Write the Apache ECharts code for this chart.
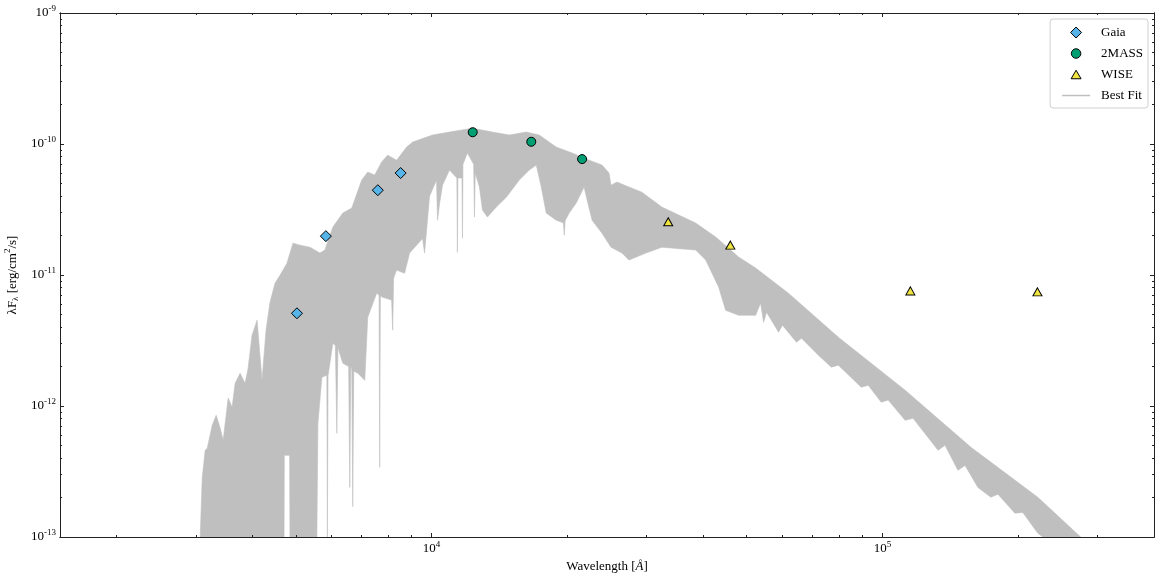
<!DOCTYPE html>
<html>
<head>
<meta charset="utf-8">
<script src="https://cdn.jsdelivr.net/npm/echarts@6/dist/echarts.min.js"></script>
<style>
  html, body { margin: 0; background: #fff; }
  #sed { width: 1156px; height: 573px; }
</style>
</head>
<body>
<div id="sed"></div>
<script>
// photometry, wavelength in Angstrom, flux in erg/cm2/s
const gaiaWave = [5030, 5830, 7600, 8540];
const gaiaFlux = [5.1e-12, 1.98e-11, 4.44e-11, 6.0e-11];
const tmassWave = [12340, 16640, 21570];
const tmassFlux = [1.23e-10, 1.04e-10, 7.67e-11];
const wiseWave = [33480, 45980, 115300, 220600];
const wiseFlux = [2.55e-11, 1.69e-11, 7.56e-12, 7.43e-12];

// best fit model spectrum: upper and lower edge of the band
const fitTopWave = [3069, 3101, 3148, 3181, 3263, 3330, 3399, 3451, 3540, 3612, 3668, 3763, 3859, 3919,
  3999, 4103, 4208, 4295, 4383, 4497, 4613, 4779, 4928, 5108, 5374, 5655, 5800, 6041, 6357, 6654, 7000,
  7220, 7482, 7750, 7991, 8367, 8806, 9079, 10051, 10960, 12320, 13640, 14880, 16220, 17330, 18900,
  20500, 22360, 23880, 24750, 25000, 25780, 27400, 29270, 32410, 38530, 42670, 47970, 52320, 61870,
  79820, 112260, 157100, 221000, 275000];
const fitTopFlux = [1e-13, 2.85e-13, 4.59e-13, 4.75e-13, 7.13e-13, 8.5e-13, 6.76e-13, 5.47e-13, 1.15e-12,
  9.77e-13, 1.49e-12, 1.78e-12, 1.49e-12, 1.94e-12, 3.47e-12, 4.52e-12, 1.57e-12, 3.79e-12, 6.19e-12,
  8.66e-12, 9.97e-12, 1.23e-11, 1.75e-11, 1.69e-11, 1.63e-11, 1.47e-11, 1.55e-11, 2.32e-11, 2.97e-11,
  3.24e-11, 5.3e-11, 6.1e-11, 5.79e-11, 7.28e-11, 8.22e-11, 7.53e-11, 9.47e-11, 1.034e-10, 1.17e-10,
  1.233e-10, 1.32e-10, 1.233e-10, 1.17e-10, 1.233e-10, 1.17e-10, 9.47e-11, 8.53e-11, 7.53e-11, 6.9e-11,
  6.0e-11, 4.85e-11, 5.12e-11, 4.69e-11, 4.29e-11, 3.3e-11, 2.49e-11, 1.95e-11, 1.37e-11, 1.13e-11,
  7.26e-12, 3.35e-12, 1.32e-12, 4.84e-13, 2.01e-13, 1e-13];
const fitLowWave = [3069, 4709, 4715, 4845, 4853, 5568, 5598, 5713, 5859, 5875, 5895, 6041, 6120, 6166,
  6200, 6357, 6550, 6587, 6620, 6655, 6688, 6722, 6862, 7111, 7220, 7555, 7650, 7674, 7700, 7790, 8156,
  8200, 8240, 8367, 8714, 8940, 9552, 9650, 9750, 9899, 10257, 10310, 10416, 10576, 10960, 11380, 11410,
  11440, 11680, 11710, 11740, 12010, 12400, 12450, 12500, 12770, 12970, 13300, 13920, 14650, 15650,
  16470, 17070, 17510, 17960, 18900, 19600, 19690, 19780, 20190, 20930, 21790, 22130, 22700, 23880,
  25000, 26440, 27400, 29880, 32410, 38530, 40550, 43330, 44890, 47970, 52320, 53660, 54490, 55330,
  58820, 60000, 64460, 66130, 72100, 77010, 79820, 89740, 93000, 99350, 102950, 112260, 116900, 132800,
  137600, 147000, 152400, 162800, 173900, 180300, 196600, 204700, 221000, 226700, 275000];
const fitLowFlux = [1e-13, 1e-13, 4.2e-13, 4.2e-13, 1e-13, 1e-13, 7.38e-13, 1.66e-12, 1.72e-12, 1e-13,
  1.7e-12, 3.01e-12, 2.9e-12, 6.19e-13, 2.8e-12, 2.12e-12, 2.0e-12, 2.39e-13, 2.0e-12, 1.9e-12, 1.7e-13,
  1.85e-12, 1.78e-12, 1.57e-12, 4.76e-12, 7.26e-12, 7.0e-12, 3.4e-13, 6.9e-12, 6.77e-12, 6.43e-12,
  3.79e-12, 9.5e-12, 1.09e-11, 1.03e-11, 1.47e-11, 1.9e-11, 1.47e-11, 2.2e-11, 4.0e-11, 5.3e-11,
  2.62e-11, 3.5e-11, 4.85e-11, 6.32e-11, 5.5e-11, 1.49e-11, 5.5e-11, 5.5e-11, 1.91e-11, 7.0e-11,
  8.53e-11, 7.0e-11, 2.77e-11, 6.0e-11, 4.69e-11, 3.13e-11, 2.77e-11, 3.3e-11, 3.93e-11, 5.3e-11,
  6.32e-11, 6.9e-11, 4.69e-11, 2.97e-11, 2.62e-11, 2.5e-11, 2.01e-11, 2.6e-11, 2.97e-11, 3.54e-11,
  4.69e-11, 3.73e-11, 2.62e-11, 2.08e-11, 1.63e-11, 1.47e-11, 1.3e-11, 1.47e-11, 1.63e-11, 1.55e-11,
  1.3e-11, 8.07e-12, 5.38e-12, 4.93e-12, 4.93e-12, 6.1e-12, 4.36e-12, 5.2e-12, 3.66e-12, 4.14e-12,
  3.07e-12, 3.29e-12, 2.44e-12, 1.98e-12, 2.05e-12, 1.39e-12, 1.44e-12, 1.07e-12, 1.11e-12, 7.78e-13,
  8.05e-13, 4.59e-13, 5.01e-13, 3.23e-13, 3.52e-13, 2.39e-13, 2.01e-13, 2.12e-13, 1.52e-13, 1.54e-13,
  1.07e-13, 1e-13, 1e-13];

// tick positions
const xMajor = [1e4, 1e5];
const xMinor = [2000, 3000, 4000, 5000, 6000, 7000, 8000, 9000, 20000, 30000, 40000, 50000, 60000,
  70000, 80000, 90000, 200000, 300000];
const yMajor = [1e-13, 1e-12, 1e-11, 1e-10, 1e-9];
const yMinor = [2e-13, 3e-13, 4e-13, 5e-13, 6e-13, 7e-13, 8e-13, 9e-13, 2e-12, 3e-12, 4e-12, 5e-12,
  6e-12, 7e-12, 8e-12, 9e-12, 2e-11, 3e-11, 4e-11, 5e-11, 6e-11, 7e-11, 8e-11, 9e-11, 2e-10, 3e-10,
  4e-10, 5e-10, 6e-10, 7e-10, 8e-10, 9e-10];

const FONT = '"Liberation Serif", "DejaVu Serif", serif';
const pairs = (xs, ys) => xs.map((x, i) => [x, ys[i]]);
const pow10 = v => '10{sup|' + Math.round(Math.log10(v)) + '}';
const supRich = { sup: { fontSize: 9, fontFamily: FONT, color: '#000', padding: [0, 0, 9, 0] } };

function makeAxis(kind, position, ticks, len, labels) {
  const isX = kind === 'x';
  return {
    type: 'log',
    logBase: 10,
    position: position,
    min: isX ? 1500 : 1e-13,
    max: isX ? 400000 : 1e-9,
    z: 10,
    splitLine: { show: false },
    axisLine: { show: true, onZero: false, lineStyle: { color: '#222', width: 1 } },
    axisTick: { show: true, inside: true, length: len, customValues: ticks,
      lineStyle: { color: '#222', width: 1 } },
    axisLabel: labels ? {
      show: true, customValues: ticks, formatter: pow10, margin: isX ? 3 : 4,
      fontSize: 13, fontFamily: FONT, color: '#000', rich: supRich
    } : { show: false }
  };
}

const xAxes = [
  makeAxis('x', 'bottom', xMajor, 4, true),
  makeAxis('x', 'bottom', xMinor, 2, false),
  makeAxis('x', 'top', xMajor, 4, false),
  makeAxis('x', 'top', xMinor, 2, false)
];
Object.assign(xAxes[0], {
  name: 'Wavelength [{it|Å}]',
  nameLocation: 'middle',
  nameGap: 17,
  nameTextStyle: { fontSize: 13, fontFamily: FONT, color: '#000',
    rich: { it: { fontStyle: 'italic', fontSize: 13, fontFamily: FONT, color: '#000' } } }
});

const yAxes = [
  makeAxis('y', 'left', yMajor, 4, true),
  makeAxis('y', 'left', yMinor, 2, false),
  makeAxis('y', 'right', yMajor, 4, false),
  makeAxis('y', 'right', yMinor, 2, false)
];
Object.assign(yAxes[0], {
  name: 'λF{sub|λ} [erg/cm{sup|2}/s]',
  nameLocation: 'middle',
  nameGap: 35,
  nameRotate: 90,
  nameTextStyle: { fontSize: 13, fontFamily: FONT, color: '#000',
    rich: {
      sub: { fontSize: 9, fontFamily: FONT, color: '#000', padding: [7, 0, 0, 0] },
      sup: { fontSize: 9, fontFamily: FONT, color: '#000', padding: [0, 0, 8, 0] }
    } }
});

const markerEdge = { borderColor: '#000', borderWidth: 1 };
const legendEdge = { borderColor: '#000', borderWidth: 1 };

const chart = echarts.init(document.getElementById('sed'));
chart.setOption({
  backgroundColor: '#fff',
  animation: false,
  grid: { left: 60, right: 2, top: 13, bottom: 36, containLabel: false, outerBoundsMode: 'none' },
  xAxis: xAxes,
  yAxis: yAxes,
  legend: {
    orient: 'vertical',
    right: 8,
    top: 19,
    padding: [7, 5, 6, 12],
    itemWidth: 28,
    itemHeight: 11,
    itemGap: 8,
    symbolKeepAspect: true,
    borderColor: '#d0d0d0',
    borderWidth: 1,
    borderRadius: 3,
    backgroundColor: 'rgba(255,255,255,0.8)',
    textStyle: { fontSize: 13, fontFamily: FONT, color: '#000', padding: [0, 0, 0, 6] },
    data: [
      { name: 'Gaia', icon: 'path://M5.5,0L11,5.5L5.5,11L0,5.5Z', itemStyle: legendEdge },
      { name: '2MASS', icon: 'path://M-0.8,-0.8M10.8,10.8M5,0A5,5,0,1,1,5,10A5,5,0,1,1,5,0Z', itemStyle: legendEdge },
      { name: 'WISE', icon: 'path://M5,-1.25M5,9.75M5,0L10,8.5L0,8.5Z', itemStyle: legendEdge },
      { name: 'Best Fit', icon: 'path://M0,0L28,0L28,1.5L0,1.5Z' }
    ]
  },
  series: [
    {
      name: 'spectrum',
      type: 'custom',
      clip: true,
      z: 1,
      data: [[fitTopWave[0], fitTopFlux[0]]],
      renderItem: function (params, api) {
        const pts = [];
        for (let i = 0; i < fitTopWave.length; i++) {
          pts.push(api.coord([fitTopWave[i], fitTopFlux[i]]));
        }
        for (let i = fitLowWave.length - 1; i >= 0; i--) {
          pts.push(api.coord([fitLowWave[i], fitLowFlux[i]]));
        }
        return { type: 'polygon', shape: { points: pts }, style: { fill: '#bfbfbf', stroke: '#bfbfbf', lineWidth: 0.6 } };
      }
    },
    {
      name: 'Best Fit',
      type: 'line',
      symbol: 'none',
      data: [],
      lineStyle: { color: '#bfbfbf', width: 1.5 },
      itemStyle: { color: '#bfbfbf' }
    },
    {
      name: 'Gaia',
      type: 'scatter',
      symbol: 'diamond',
      symbolSize: 11,
      z: 3,
      data: pairs(gaiaWave, gaiaFlux),
      itemStyle: Object.assign({ color: '#56b4e9', opacity: 1 }, markerEdge)
    },
    {
      name: '2MASS',
      type: 'scatter',
      symbol: 'circle',
      symbolSize: 9,
      z: 3,
      data: pairs(tmassWave, tmassFlux),
      itemStyle: Object.assign({ color: '#009e73', opacity: 1 }, markerEdge)
    },
    {
      name: 'WISE',
      type: 'scatter',
      symbol: 'triangle',
      symbolSize: [9, 8],
      z: 3,
      data: pairs(wiseWave, wiseFlux),
      itemStyle: Object.assign({ color: '#f0e442', opacity: 1 }, markerEdge)
    }
  ]
});
</script>
</body>
</html>
